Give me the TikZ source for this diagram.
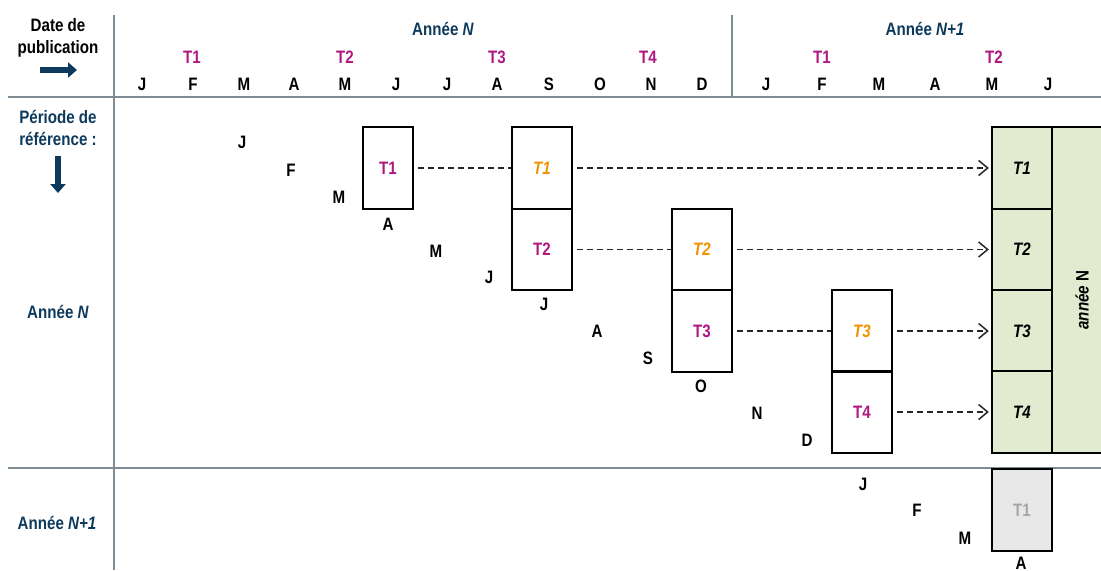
\documentclass[tikz,border=0pt]{standalone}
\usepackage{fontspec}
\setmainfont{Liberation Sans}[FakeStretch=0.84]
\usepackage{tikz}
\usetikzlibrary{positioning}
\usetikzlibrary{arrows.meta}
\definecolor{navyColor}{RGB}{13,58,92}
\definecolor{quarterColor}{RGB}{176,23,127}
\definecolor{revisedColor}{RGB}{243,146,0}
\definecolor{greenFill}{RGB}{226,235,207}
\definecolor{ruleColor}{RGB}{127,140,148}
\definecolor{greyFill}{RGB}{232,232,232}
\newcommand{\lblfont}{\fontsize{9}{11}\selectfont\bfseries}

\begin{document}
\begin{tikzpicture}[x=0.5pt,y=-0.5pt]

          \tikzstyle{every node} = [font=\lblfont];
          \tikzstyle{monthNode} = [black];
          \tikzstyle{quarterNode} = [quarterColor];
          \tikzstyle{headNode} = [navyColor, align=center];
          \tikzstyle{boxNode} = [draw=black, line width=1.2pt, minimum width=30pt, minimum height=40.75pt, inner sep=0pt];
          \tikzstyle{newBox} = [boxNode, text=quarterColor];
          \tikzstyle{revBox} = [boxNode, text=revisedColor, font=\lblfont\itshape];
          \tikzstyle{finalBox} = [boxNode, fill=greenFill, font=\lblfont\itshape];
          \tikzstyle{nextBox} = [boxNode, fill=greyFill, text=black!35];

          \tikzstyle{ruleLine} = [ruleColor, line width=1.3pt];
          \tikzstyle{dashEdge} = [line width=0.75pt, dash pattern=on 3pt off 2pt, black!85, shorten <=2pt];
          \tikzstyle{dashArrow} = [dashEdge, -{Straight Barb[length=4.5pt,width=7.5pt]}, shorten >=1pt];
          \tikzstyle{blueArrow} = [navyColor, line width=3pt, -{Triangle[length=4.5pt,width=7.5pt]}];

          \useasboundingbox (0,0) rectangle (1101,570);

          % grid lines
          \draw[ruleLine] (114,15) -- (114,570);
          \draw[ruleLine] (732,15) -- (732,97);
          \draw[ruleLine] (8,97) -- (1101,97);
          \draw[ruleLine] (8,468) -- (1101,468);

          % left column
          \node[black, align=center] (pub) at (58,38) {Date de\\publication};
          \coordinate (pubA) at (40,70);
          \coordinate (pubB) at (77,70);
          \draw[blueArrow] (pubA) -- (pubB);
          \node[headNode] (ref) at (58,128) {Période de\\référence :};
          \coordinate (refA) at (58,156);
          \coordinate (refB) at (58,193);
          \draw[blueArrow] (refA) -- (refB);
          \node[headNode] (yrN) at (58,312) {Année \textit{N}};
          \node[headNode] (yrNN) at (57,523) {Année \textit{N+1}};

          % header
          \node[headNode] (topN) at (443,29) {Année \textit{N}};
          \node[headNode] (topNN) at (925,29) {Année \textit{N+1}};

          \node[quarterNode] (q1) at (192,57) {T1};
          \node[quarterNode] (q2) at (345,57) {T2};
          \node[quarterNode] (q3) at (497,57) {T3};
          \node[quarterNode] (q4) at (648,57) {T4};
          \node[quarterNode] (q5) at (822,57) {T1};
          \node[quarterNode] (q6) at (994,57) {T2};

          \node[monthNode] (h1) at (142,84) {J};
          \node[monthNode] (h2) at (193,84) {F};
          \node[monthNode] (h3) at (244,84) {M};
          \node[monthNode] (h4) at (294,84) {A};
          \node[monthNode] (h5) at (345,84) {M};
          \node[monthNode] (h6) at (396,84) {J};
          \node[monthNode] (h7) at (447,84) {J};
          \node[monthNode] (h8) at (497,84) {A};
          \node[monthNode] (h9) at (549,84) {S};
          \node[monthNode] (h10) at (600,84) {O};
          \node[monthNode] (h11) at (651,84) {N};
          \node[monthNode] (h12) at (702,84) {D};
          \node[monthNode] (h13) at (766,84) {J};
          \node[monthNode] (h14) at (822,84) {F};
          \node[monthNode] (h15) at (879,84) {M};
          \node[monthNode] (h16) at (935,84) {A};
          \node[monthNode] (h17) at (992,84) {M};
          \node[monthNode] (h18) at (1048,84) {J};

          % reference months
          \node[monthNode] (m1) at (242,142) {J};
          \node[monthNode] (m2) at (291,170) {F};
          \node[monthNode] (m3) at (339,197) {M};
          \node[monthNode] (m4) at (388,224) {A};
          \node[monthNode] (m5) at (436,251) {M};
          \node[monthNode] (m6) at (489,277) {J};
          \node[monthNode] (m7) at (544,304) {J};
          \node[monthNode] (m8) at (597,331) {A};
          \node[monthNode] (m9) at (648,358) {S};
          \node[monthNode] (m10) at (701,386) {O};
          \node[monthNode] (m11) at (757,413) {N};
          \node[monthNode] (m12) at (807,440) {D};
          \node[monthNode] (m13) at (863,484) {J};
          \node[monthNode] (m14) at (917,510) {F};
          \node[monthNode] (m15) at (965,538) {M};
          \node[monthNode] (m16) at (1021,563) {A};

          % boxes
          \node[newBox, minimum width=25pt] (a1) at (388,168) {T1};
          \node[revBox] (b1) at (542,168) {T1};
          \node[newBox] (b2) at (542,249.5) {T2};
          \node[revBox] (c2) at (702,249.5) {T2};
          \node[newBox] (c3) at (702,331) {T3};
          \node[revBox] (d3) at (862,331) {T3};
          \node[newBox] (d4) at (862,412) {T4};
          \node[finalBox] (g1) at (1022,168) {T1};
          \node[finalBox] (g2) at (1022,249.5) {T2};
          \node[finalBox] (g3) at (1022,331) {T3};
          \node[finalBox] (g4) at (1022,412) {T4};
          \node[boxNode, fill=greenFill, minimum width=29pt, minimum height=163pt] (yearBox) at (1081,290) {};
          \node[rotate=90] (yearLbl) at (1082,300) {\itshape année \upshape N};
          \node[nextBox] (n1) at (1022,510) {T1};

          % revisions
          \draw[dashEdge] (a1.east) -- (b1.west);
          \draw[dashArrow] (b1.east) -- (g1.west);
          \draw[dashEdge] (b2.east) -- (c2.west);
          \draw[dashArrow] (c2.east) -- (g2.west);
          \draw[dashEdge] (c3.east) -- (d3.west);
          \draw[dashArrow] (d3.east) -- (g3.west);
          \draw[dashArrow] (d4.east) -- (g4.west);
        \end{tikzpicture}
\end{document}
